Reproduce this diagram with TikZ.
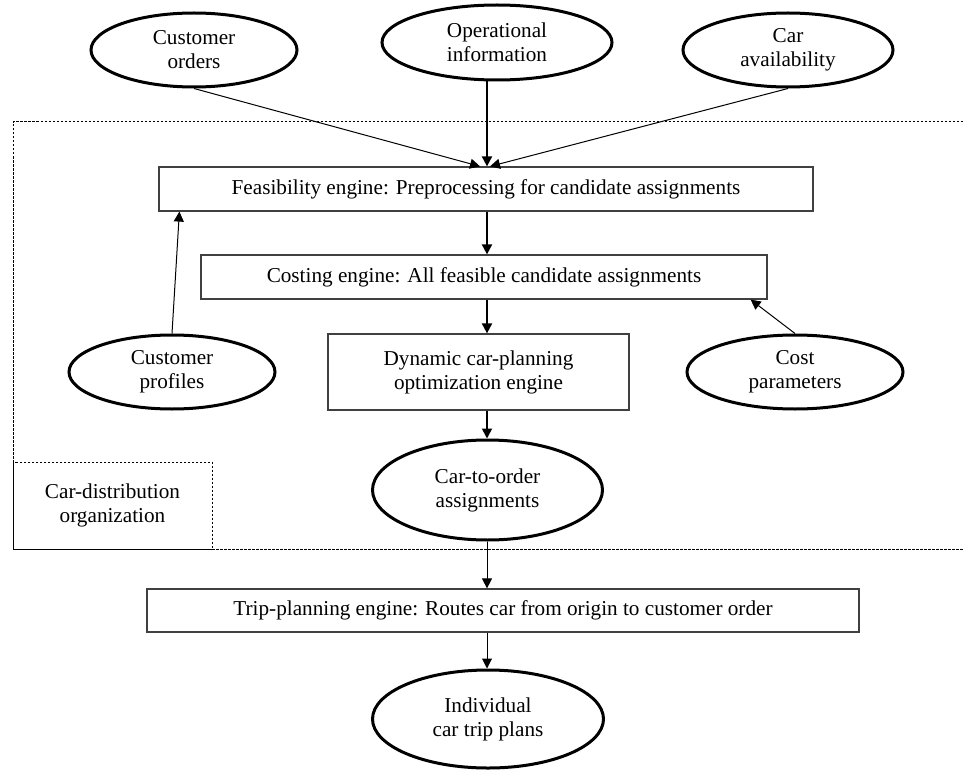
\documentclass[tikz,border=0pt]{standalone}
\usepackage{fontspec}
\setmainfont{Liberation Serif}
\usetikzlibrary{shapes.geometric,arrows.meta}
\begin{document}
\begin{tikzpicture}[x=1pt,y=-1pt,
  font=\fontsize{21.2}{24}\selectfont,
  oval/.style={draw, ellipse, line width=3pt, inner sep=0pt, align=center},
  engine/.style={draw=black!75, line width=1.2pt, rectangle, inner sep=0pt, align=center},
  org/.style={draw, line width=1pt, dash pattern=on 2.5pt off 1.5pt},
  flow/.style={line width=1.8pt, -{Triangle[length=10pt,width=10pt]}},
  feed/.style={line width=1pt, -{Triangle[length=10pt,width=10pt]}}]
\useasboundingbox (0,0) rectangle (963,770);
% organisation boundary
\draw[org] (975,122) -- (13,122) -- (13,549) -- (975,549);
\node[org, rectangle, minimum width=199pt, minimum height=87pt, align=center, inner sep=0pt] (cdo) at (112.5,505.5) {Car-distribution\\organization};
% inputs
\node[oval, minimum width=206pt, minimum height=74pt] (co) at (194,50) {Customer\\orders};
\node[oval, minimum width=230pt, minimum height=75pt] (oi) at (497,42.5) {Operational\\information};
\node[oval, minimum width=210pt, minimum height=74pt] (ca) at (788,50) {Car\\availability};
% engines
\node[engine, minimum width=654pt, minimum height=44pt] (fe) at (486,189) {Feasibility engine: Preprocessing for candidate assignments};
\node[engine, minimum width=566pt, minimum height=44pt] (ce) at (484,277) {Costing engine: All feasible candidate assignments};
\node[engine, minimum width=301pt, minimum height=76pt] (de) at (478.5,372) {Dynamic car-planning\\optimization engine};
\node[oval, minimum width=206pt, minimum height=74pt] (cp) at (172,372) {Customer\\profiles};
\node[oval, minimum width=216pt, minimum height=74pt] (cpar) at (795,372) {Cost\\parameters};
\node[oval, minimum width=230pt, minimum height=100pt] (c2o) at (487.5,490) {Car-to-order\\assignments};
\node[engine, minimum width=712pt, minimum height=43pt] (tp) at (503,610.5) {Trip-planning engine: Routes car from origin to customer order};
\node[oval, minimum width=231pt, minimum height=98pt] (ind) at (488,719) {Individual\\car trip plans};
% connectors
\coordinate (ax) at (487,0);
\draw[feed] (co.south) -- ([xshift=-6pt]fe.north);
\draw[flow] (oi.south -| ax) -- (fe.north -| ax);
\draw[feed] (ca.south) -- ([xshift=4pt]fe.north);
\draw[feed] (cp.north) -- ([xshift=21pt]fe.south west);
\draw[flow] (fe.south -| ax) -- (ce.north -| ax);
\draw[feed] (cpar.north) -- ([xshift=-17pt]ce.south east);
\draw[flow] (ce.south -| ax) -- (de.north -| ax);
\draw[flow] (de.south -| ax) -- (c2o.north -| ax);
\draw[feed] (c2o.south -| ax) -- (tp.north -| ax);
\draw[feed] (tp.south -| ax) -- (ind.north -| ax);
\end{tikzpicture}
\end{document}
